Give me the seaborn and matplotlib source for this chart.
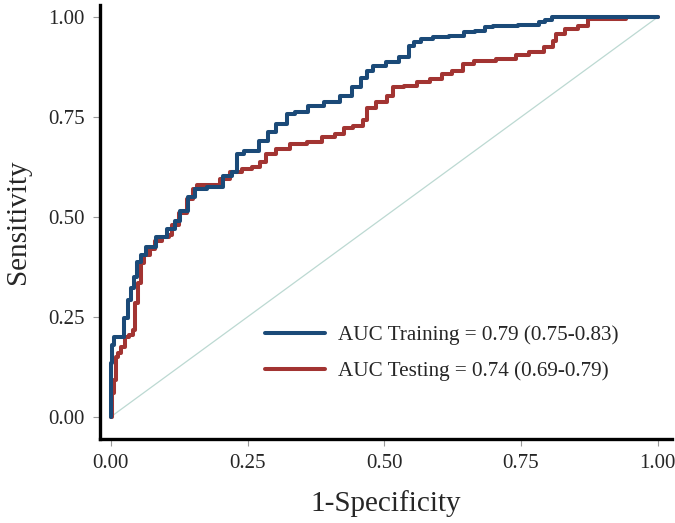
import numpy as np
import pandas as pd
import seaborn as sns
from matplotlib import pyplot as plt

# Curva ROC de entrenamiento (1-especificidad, sensibilidad)
train_fpr = [0.0, 0.0, 0.003, 0.007, 0.022, 0.026, 0.035, 0.040, 0.044, 0.053, 0.059, 0.071,
             0.095, 0.112, 0.121, 0.132, 0.150, 0.158, 0.194, 0.218, 0.227, 0.233, 0.255,
             0.286, 0.288, 0.315, 0.328, 0.346, 0.374, 0.407, 0.432, 0.451, 0.465, 0.471,
             0.489, 0.516, 0.538, 0.551, 0.557, 0.579, 0.599, 0.639, 0.652, 0.681, 0.689,
             0.709, 0.780, 0.786, 0.804, 0.810, 1.0]
train_tpr = [0.0, 0.135, 0.180, 0.200, 0.200, 0.248, 0.293, 0.323, 0.351, 0.388, 0.406, 0.426,
             0.451, 0.469, 0.489, 0.514, 0.551, 0.569, 0.574, 0.602, 0.612, 0.657, 0.664,
             0.689, 0.714, 0.732, 0.757, 0.764, 0.777, 0.787, 0.802, 0.825, 0.847, 0.865,
             0.877, 0.887, 0.900, 0.927, 0.937, 0.945, 0.950, 0.952, 0.962, 0.965, 0.975,
             0.977, 0.980, 0.987, 0.992, 1.0, 1.0]

# Curva ROC de prueba
test_fpr = [0.0, 0.004, 0.007, 0.011, 0.016, 0.022, 0.029, 0.038, 0.044, 0.046, 0.053, 0.057,
            0.066, 0.077, 0.084, 0.103, 0.108, 0.117, 0.132, 0.145, 0.154, 0.163, 0.194,
            0.205, 0.231, 0.249, 0.267, 0.278, 0.288, 0.315, 0.341, 0.377, 0.396, 0.423,
            0.429, 0.456, 0.465, 0.471, 0.498, 0.511, 0.520, 0.553, 0.566, 0.603, 0.608,
            0.639, 0.648, 0.679, 0.731, 0.753, 0.777, 0.808, 0.810, 0.819, 0.844, 0.864,
            0.883, 1.0]
test_tpr = [0.0, 0.060, 0.093, 0.150, 0.160, 0.175, 0.200, 0.206, 0.218, 0.286, 0.336, 0.386,
            0.406, 0.419, 0.439, 0.451, 0.456, 0.481, 0.511, 0.544, 0.569, 0.581, 0.581,
            0.594, 0.612, 0.619, 0.624, 0.637, 0.657, 0.669, 0.682, 0.687, 0.699, 0.707,
            0.724, 0.727, 0.744, 0.774, 0.787, 0.802, 0.825, 0.827, 0.837, 0.845, 0.857,
            0.865, 0.882, 0.890, 0.895, 0.905, 0.912, 0.925, 0.940, 0.957, 0.970, 0.977,
            0.995, 1.0]

labels = ['AUC Training = 0.79 (0.75-0.83)', 'AUC Testing = 0.74 (0.69-0.79)']
ticks = [0.0, 0.25, 0.5, 0.75, 1.0]

sns.set_style('ticks')
plt.rcParams['font.family'] = ['Liberation Serif', 'DejaVu Serif']

fig = plt.figure(figsize=(6.75, 5.23), dpi=100)
ax = fig.add_axes([0.148, 0.161, 0.848, 0.829])

# Linea de referencia
ax.plot([0, 1], [0, 1], color='#bcd9d2', lw=0.9, zorder=1)

train = pd.DataFrame({'fpr': train_fpr, 'tpr': train_tpr})
test = pd.DataFrame({'fpr': test_fpr, 'tpr': test_tpr})
sns.lineplot(data=train, x='fpr', y='tpr', estimator=None, sort=False, drawstyle='steps-mid',
             color='#1b4a78', lw=2.9, label=labels[0], ax=ax, zorder=3)
sns.lineplot(data=test, x='fpr', y='tpr', estimator=None, sort=False, drawstyle='steps-mid',
             color='#a23432', lw=2.9, label=labels[1], ax=ax, zorder=2)

ax.set_xlim(-0.02, 1.027)
ax.set_ylim(-0.055, 1.03)
ax.set_xticks(ticks)
ax.set_yticks(ticks)
ax.set_xticklabels([f'{t:.2f}' for t in ticks], fontsize=15)
ax.set_yticklabels([f'{t:.2f}' for t in ticks], fontsize=15)
ax.tick_params(axis='both', color='#999999', length=5, width=0.8, pad=6)

for s in ['left', 'bottom']:
    ax.spines[s].set_linewidth(2.4)
    ax.spines[s].set_color('black')
sns.despine(ax=ax)

ax.set_xlabel('1-Specificity', fontsize=21, labelpad=12)
ax.set_ylabel('Sensitivity', fontsize=21, labelpad=12)

leg = ax.legend(loc='upper left', bbox_to_anchor=(0.255, 0.305), frameon=False, fontsize=15.2,
                handlelength=2.85, handletextpad=0.6, labelspacing=0.75)
for line in leg.get_lines():
    line.set_linewidth(2.9)

plt.savefig('out.png', dpi=100)
